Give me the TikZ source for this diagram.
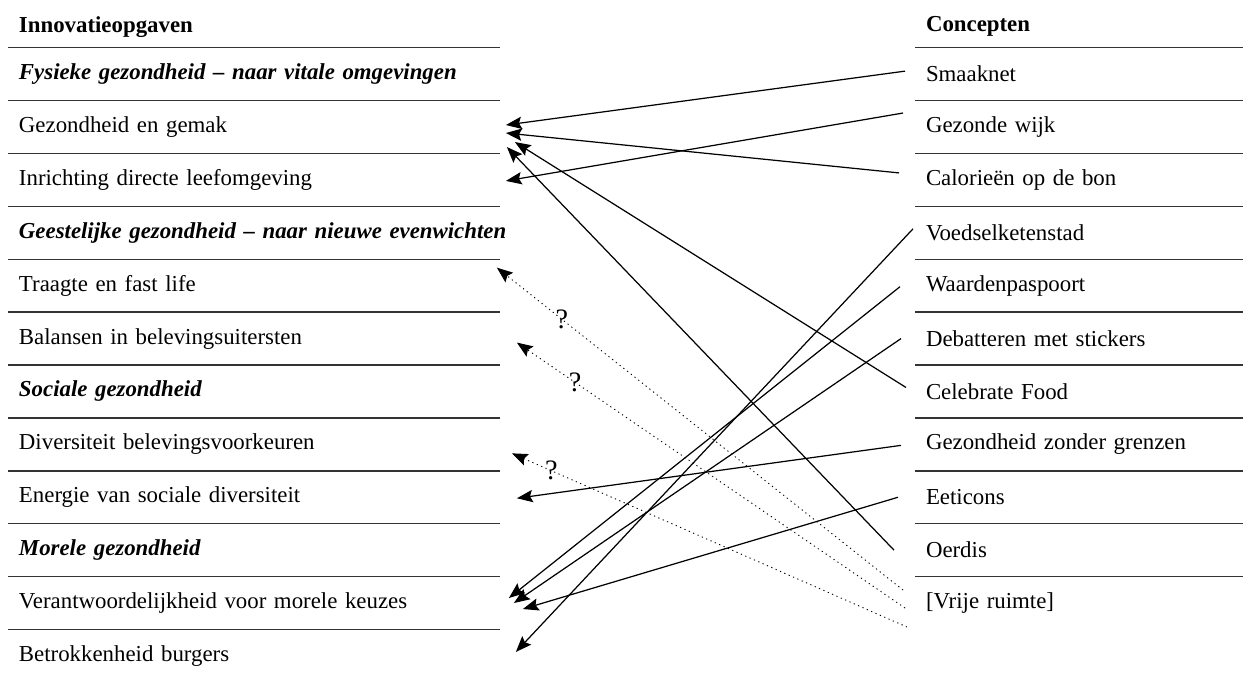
\documentclass[tikz,border=0pt]{standalone}
\usepackage{fontspec}
\setmainfont{Liberation Serif}
\usepackage{tikz}
\usetikzlibrary{positioning,arrows.meta}

\tikzset{
  cell/.style = {shape = rectangle, anchor = west, inner xsep = 0.22cm, inner ysep = 0pt, outer sep = 0pt, minimum height = 1.058cm, align = left, font = \fontsize{13pt}{15pt}\selectfont},
  lcell/.style = {cell, text width = 9.4cm},
  rcell/.style = {cell, text width = 6.12cm},
  head/.style = {minimum height = 0.834cm},
  rule/.style = {draw = black!80, line width = 0.8pt},
  ruled/.style = {append after command = {(\tikzlastnode.north west) edge[rule] (\tikzlastnode.north east)}},
  link/.style = {-{Stealth[length = 9pt, width = 7pt, inset = 1.5pt]}, line width = 0.7pt},
  maybe/.style = {link, dotted, line width = 0.5pt},
  qmark/.style = {font = \fontsize{16pt}{18pt}\selectfont, inner sep = 0pt}
}

\begin{document}
\begin{tikzpicture}[x = 0.02cm, y = -0.02cm]
\useasboundingbox (0,0) rectangle (1244,682);
% innovatieopgaven
\node[lcell, head] (i0) at (8,26.85) {\textbf{Innovatieopgaven}};
\node[lcell, ruled, below = 0pt of i0] (i1) {\mbox{\textbf{\textit{Fysieke gezondheid -- naar vitale omgevingen}}}};
\node[lcell, ruled, below = 0pt of i1] (i2) {Gezondheid en gemak};
\node[lcell, ruled, below = 0pt of i2] (i3) {Inrichting directe leefomgeving};
\node[lcell, ruled, below = 0pt of i3] (i4) {\mbox{\textbf{\textit{Geestelijke gezondheid -- naar nieuwe evenwichten}}}};
\node[lcell, ruled, below = 0pt of i4] (i5) {Traagte en fast life};
\node[lcell, ruled, below = 0pt of i5] (i6) {Balansen in belevingsuitersten};
\node[lcell, ruled, below = 0pt of i6] (i7) {\textbf{\textit{Sociale gezondheid}}};
\node[lcell, ruled, below = 0pt of i7] (i8) {Diversiteit belevingsvoorkeuren};
\node[lcell, ruled, below = 0pt of i8] (i9) {Energie van sociale diversiteit};
\node[lcell, ruled, below = 0pt of i9] (i10) {\textbf{\textit{Morele gezondheid}}};
\node[lcell, ruled, below = 0pt of i10] (i11) {Verantwoordelijkheid voor morele keuzes};
\node[lcell, ruled, below = 0pt of i11] (i12) {Betrokkenheid burgers};
% concepten
\node[rcell, head] (c0) at (915,26.85) {\textbf{Concepten}};
\node[rcell, ruled, below = 0pt of c0] (c1) {Smaaknet};
\node[rcell, ruled, below = 0pt of c1] (c2) {Gezonde wijk};
\node[rcell, ruled, below = 0pt of c2] (c3) {Calorieën op de bon};
\node[rcell, ruled, below = 0pt of c3] (c4) {Voedselketenstad};
\node[rcell, ruled, below = 0pt of c4] (c5) {Waardenpaspoort};
\node[rcell, ruled, below = 0pt of c5] (c6) {Debatteren met stickers};
\node[rcell, ruled, below = 0pt of c6] (c7) {Celebrate Food};
\node[rcell, ruled, below = 0pt of c7] (c8) {Gezondheid zonder grenzen};
\node[rcell, ruled, below = 0pt of c8] (c9) {Eeticons};
\node[rcell, ruled, below = 0pt of c9] (c10) {Oerdis};
\node[rcell, ruled, below = 0pt of c10] (c11) {[Vrije ruimte]};
% koppelingen
\draw[link] ([shift = {(-10,-3)}]c1.west) -- ([shift = {(6,-2)}]i2.east);
\draw[link] ([shift = {(-12,-14)}]c2.west) -- ([shift = {(6,1)}]i3.east);
\draw[link] ([shift = {(-16,-7)}]c3.west) -- ([shift = {(6,6)}]i2.east);
\draw[link] ([shift = {(-2,-4)}]c4.west) -- ([shift = {(16,-4)}]i12.east);
\draw[link] ([shift = {(-15,1)}]c5.west) -- ([shift = {(9,-5)}]i11.east);
\draw[link] ([shift = {(-14,0)}]c6.west) -- ([shift = {(14,0)}]i11.east);
\draw[link] ([shift = {(-9,-4)}]c7.west) -- ([shift = {(15,15)}]i2.east);
\draw[link] ([shift = {(-14,1)}]c8.west) -- ([shift = {(17,1)}]i9.east);
\draw[link] ([shift = {(-17,0)}]c9.west) -- ([shift = {(23,6)}]i11.east);
\draw[link] ([shift = {(-21,0)}]c10.west) -- ([shift = {(7,20)}]i2.east);
% vrije ruimte
\draw[maybe] ([shift = {(-12,-13)}]c11.west) -- ([shift = {(-3,-18)}]i5.east) node[qmark, pos = 0.84] {?};
\draw[maybe] ([shift = {(-10,5)}]c11.west) -- ([shift = {(17,4)}]i6.east) node[qmark, pos = 0.85] {?};
\draw[maybe] ([shift = {(-8,24)}]c11.west) -- ([shift = {(12,9)}]i8.east) node[qmark, pos = 0.9] {?};
\end{tikzpicture}
\end{document}
